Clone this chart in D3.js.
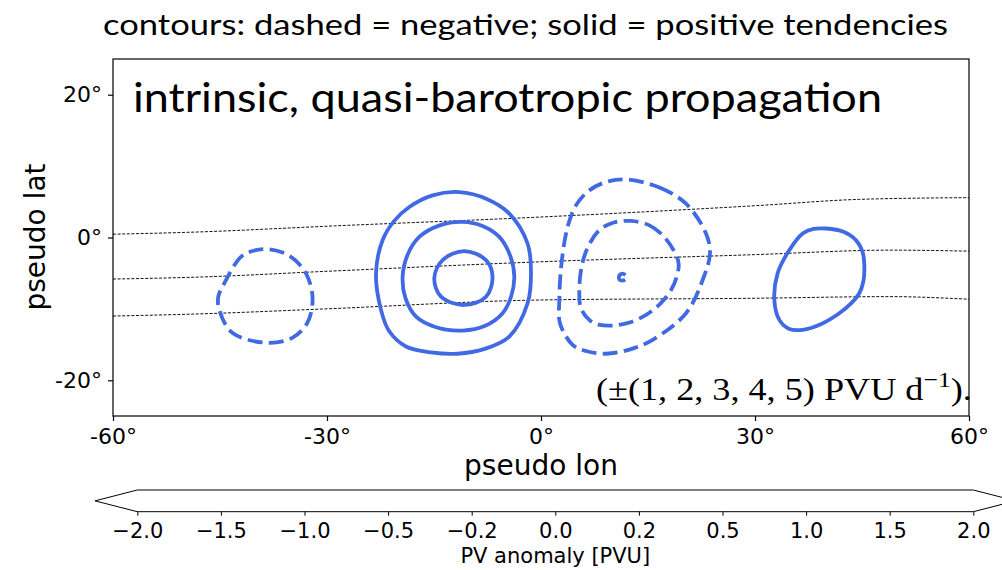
<!DOCTYPE html>
<html lang="en">
<head>
<meta charset="UTF-8">
<title>intrinsic, quasi-barotropic propagation</title>
<script src="https://d3js.org/d3.v7.min.js"></script>
<style>
  body { margin: 0; background: #fff; }
  svg { display: block; }
</style>
</head>
<body>
<svg id="chart" width="1002" height="570"></svg>
<script>
// axis ticks
var lonTicks = [-60, -30, 0, 30, 60];
var latTicks = [-20, 0, 20];
var cbarTicks = [-2.0, -1.5, -1.0, -0.5, -0.2, 0.0, 0.2, 0.5, 1.0, 1.5, 2.0];

// dashed guide lines [lon, lat]
var guide1 = [[-60, 0.46], [-47.9, 0.78], [-30, 1.58], [0, 2.87], [30, 4.45], [44.6, 5.34], [60, 5.58]];
var guide2 = [[-60, -5.82], [-47.9, -5.54], [-30, -4.73], [0, -3.40], [30, -2.40], [48.9, -1.77], [60, -1.91]];
var guide3 = [[-60, -11.0], [-47.9, -10.7], [-30, -9.99], [0, -8.75], [30, -8.51], [48.9, -8.28], [60, -8.65]];

// tendency contours [lon, lat]
var negWest = [[-38.09, -1.67], [-35.2, -2.6], [-32.95, -5.02], [-32.02, -8.47], [-32.76, -11.96], [-34.87, -14.05], [-38.37, -14.75],
  [-43.27, -13.35], [-45.10, -10.14], [-45.24, -8.29], [-44.40, -6.42], [-42.06, -2.71], [-40.3, -1.85]];
var posOuter = [[-11.45, 6.36], [-7.6, 5.4], [-4.44, 3.35], [-1.88, -0.84], [-1.40, -5.02], [-1.88, -9.21], [-4.44, -13.87], [-7.9, -15.6], [-11.69, -16.28],
  [-15.4, -16.1], [-18.93, -15.26], [-21.3, -13.1], [-22.43, -10.14], [-23.13, -5.02], [-22.21, -0.38], [-20.6, 2.3], [-18.46, 4.27], [-15.20, 5.90]];
var posMid = [[-10.99, 2.18], [-8.2, 1.6], [-5.85, 0.08], [-4.3, -2.6], [-3.74, -5.50], [-4.2, -8.3], [-5.38, -10.60], [-7.9, -12.4], [-10.99, -13.03],
  [-14.6, -12.6], [-17.52, -11.08], [-19.0, -8.5], [-19.40, -5.50], [-18.7, -2.4], [-17.06, 0.08], [-14.2, 1.7]];
var posInner = [[-10.75, -1.91], [-7.71, -3.17], [-6.79, -5.50], [-7.71, -8.29], [-10.75, -9.45], [-14.02, -8.29], [-14.96, -5.72], [-13.80, -3.17]];
var negOuter = [[11.92, 8.13], [16.6, 7.0], [20.33, 4.74], [23.13, 0.56], [23.69, -2.23], [22.66, -5.96], [20.33, -10.60], [15.65, -14.33],
  [12.4, -15.7], [9.11, -16.28], [6.3, -15.9], [4.43, -15.03], [2.66, -12.00], [2.57, -8.79], [2.85, -3.87], [3.73, 1.48], [4.9, 4.5], [6.77, 6.60], [9.2, 7.8]];
var negMid = [[12.62, 2.32], [15.2, 1.7], [17.05, 0.32], [18.6, -1.8], [19.29, -3.63], [19.0, -5.6], [18.23, -7.35], [16.7, -9.3], [14.72, -10.84],
  [12.4, -11.9], [10.04, -12.33], [8.1, -12.2], [6.77, -11.54], [5.6, -9.9], [5.37, -7.81], [5.61, -4.56], [6.5, -1.5], [8.17, 1.02], [10.2, 2.1]];
var negCore = [[11.85, -5.25], [11.40, -5.05], [10.95, -5.40], [11.00, -5.90], [11.40, -6.05], [11.80, -5.90]];
var posEast = [[39.96, 1.26], [42.4, 0.8], [44.16, -0.38], [45.1, -2.1], [45.33, -4.10], [45.2, -6.1], [44.62, -7.81], [43.4, -9.3], [41.82, -10.60],
  [39.3, -12.1], [36.68, -12.93], [34.8, -12.8], [33.41, -11.54], [32.71, -8.75], [33.17, -5.02], [34.81, -1.77], [36.68, 0.56], [38.2, 1.2]];

var contours = [
  { pts: negWest, sign: -1 }, { pts: posOuter, sign: 1 }, { pts: posMid, sign: 1 }, { pts: posInner, sign: 1 },
  { pts: negOuter, sign: -1 }, { pts: negMid, sign: -1 }, { pts: posEast, sign: 1 }
];

var svg = d3.select("#chart");
var blue = "#4169e1";

var x = d3.scaleLinear().domain([-60, 60]).range([113, 969]);
var y = d3.scaleLinear().domain([-25, 25]).range([416, 59]);

// page title
svg.append("text")
  .attr("x", 103).attr("y", 35)
  .attr("textLength", 845).attr("lengthAdjust", "spacingAndGlyphs")
  .style("font-family", "Lato, 'Open Sans', sans-serif").style("font-size", "29px")
  .text("contours: dashed = negative; solid = positive tendencies");

// guide lines
var guideLine = d3.line().x(d => x(d[0])).y(d => y(d[1])).curve(d3.curveMonotoneX);
svg.append("g").selectAll("path")
  .data([guide1, guide2, guide3])
  .join("path")
  .attr("d", guideLine)
  .attr("fill", "none").attr("stroke", "#111").attr("stroke-width", 1)
  .attr("stroke-dasharray", "3,1.6");

// contours
var ring = d3.line().x(d => x(d[0])).y(d => y(d[1])).curve(d3.curveCatmullRomClosed.alpha(0.5));
svg.append("g").selectAll("path")
  .data(contours)
  .join("path")
  .attr("d", d => ring(d.pts))
  .attr("fill", "none").attr("stroke", blue).attr("stroke-width", 3.8)
  .attr("stroke-dasharray", d => d.sign < 0 ? "14.8,6.4" : null);

svg.append("path")
  .attr("d", d3.line().x(d => x(d[0])).y(d => y(d[1])).curve(d3.curveCatmullRom)(negCore))
  .attr("fill", "none").attr("stroke", blue).attr("stroke-width", 3.8).attr("stroke-linecap", "butt");

// frame
svg.append("rect")
  .attr("x", 113).attr("y", 59).attr("width", 969 - 113).attr("height", 416 - 59)
  .attr("fill", "none").attr("stroke", "#000").attr("stroke-width", 1.2);

// axes
var xAxis = svg.append("g").attr("transform", "translate(0,416)")
  .call(d3.axisBottom(x).tickValues(lonTicks).tickSize(5).tickPadding(7).tickFormat(d => d + "°"));
var yAxis = svg.append("g").attr("transform", "translate(113,0)")
  .call(d3.axisLeft(y).tickValues(latTicks).tickSize(5).tickPadding(6).tickFormat(d => d + "°"));
[xAxis, yAxis].forEach(function (a) {
  a.select(".domain").remove();
  a.selectAll("line").attr("stroke", "#000").attr("stroke-width", 1.2);
  a.selectAll("text").attr("fill", "#000")
    .style("font-family", "'DejaVu Sans', sans-serif").style("font-size", "22px");
});

svg.append("text")
  .attr("x", 541).attr("y", 475).attr("text-anchor", "middle")
  .style("font-family", "'DejaVu Sans', sans-serif").style("font-size", "28px")
  .text("pseudo lon");
svg.append("text")
  .attr("transform", "translate(45,237) rotate(-90)").attr("text-anchor", "middle")
  .style("font-family", "'DejaVu Sans', sans-serif").style("font-size", "28px")
  .text("pseudo lat");

// panel heading
svg.append("text")
  .attr("x", 133).attr("y", 112)
  .attr("textLength", 749).attr("lengthAdjust", "spacingAndGlyphs")
  .style("font-family", "Lato, 'Open Sans', sans-serif").style("font-size", "41px")
  .text("intrinsic, quasi-barotropic propagation");

// contour levels note
var noteG = svg.append("g").attr("transform", "translate(596,400)");
var note = noteG.append("text")
  .style("font-family", "'Liberation Serif', serif").style("font-size", "31px");
note.append("tspan").text("(±(1, 2, 3, 4, 5) PVU d");
note.append("tspan").attr("dy", -13).style("font-size", "22px").text("−1");
note.append("tspan").attr("dy", 13).text(").");
var nw = note.node().getBBox().width;
note.attr("transform", "scale(" + (376 / nw) + ",1)");

// colorbar
var cb = d3.scalePoint().domain(d3.range(cbarTicks.length)).range([137.3, 973.3]);
var cbTop = 490, cbBot = 511.7, ext = 42.3;
var x0 = cb(0), x1 = cb(cbarTicks.length - 1), ym = (cbTop + cbBot) / 2;
svg.append("path")
  .attr("d", "M" + (x0 - ext) + "," + ym + "L" + x0 + "," + cbTop + "L" + x1 + "," + cbTop +
    "L" + (x1 + ext) + "," + ym + "L" + x1 + "," + cbBot + "L" + x0 + "," + cbBot + "Z")
  .attr("fill", "#fff").attr("stroke", "#000").attr("stroke-width", 1);

var cbAxis = svg.append("g").attr("transform", "translate(0," + cbBot + ")")
  .call(d3.axisBottom(cb).tickSize(4).tickPadding(7).tickFormat(i => d3.format(".1f")(cbarTicks[i])));
cbAxis.select(".domain").remove();
cbAxis.selectAll("line").attr("stroke", "#000");
cbAxis.selectAll("text").attr("fill", "#000")
  .style("font-family", "'DejaVu Sans', sans-serif").style("font-size", "21px");

svg.append("text")
  .attr("x", (x0 + x1) / 2).attr("y", 563).attr("text-anchor", "middle")
  .style("font-family", "'DejaVu Sans', sans-serif").style("font-size", "21px")
  .text("PV anomaly [PVU]");
</script>
</body>
</html>
